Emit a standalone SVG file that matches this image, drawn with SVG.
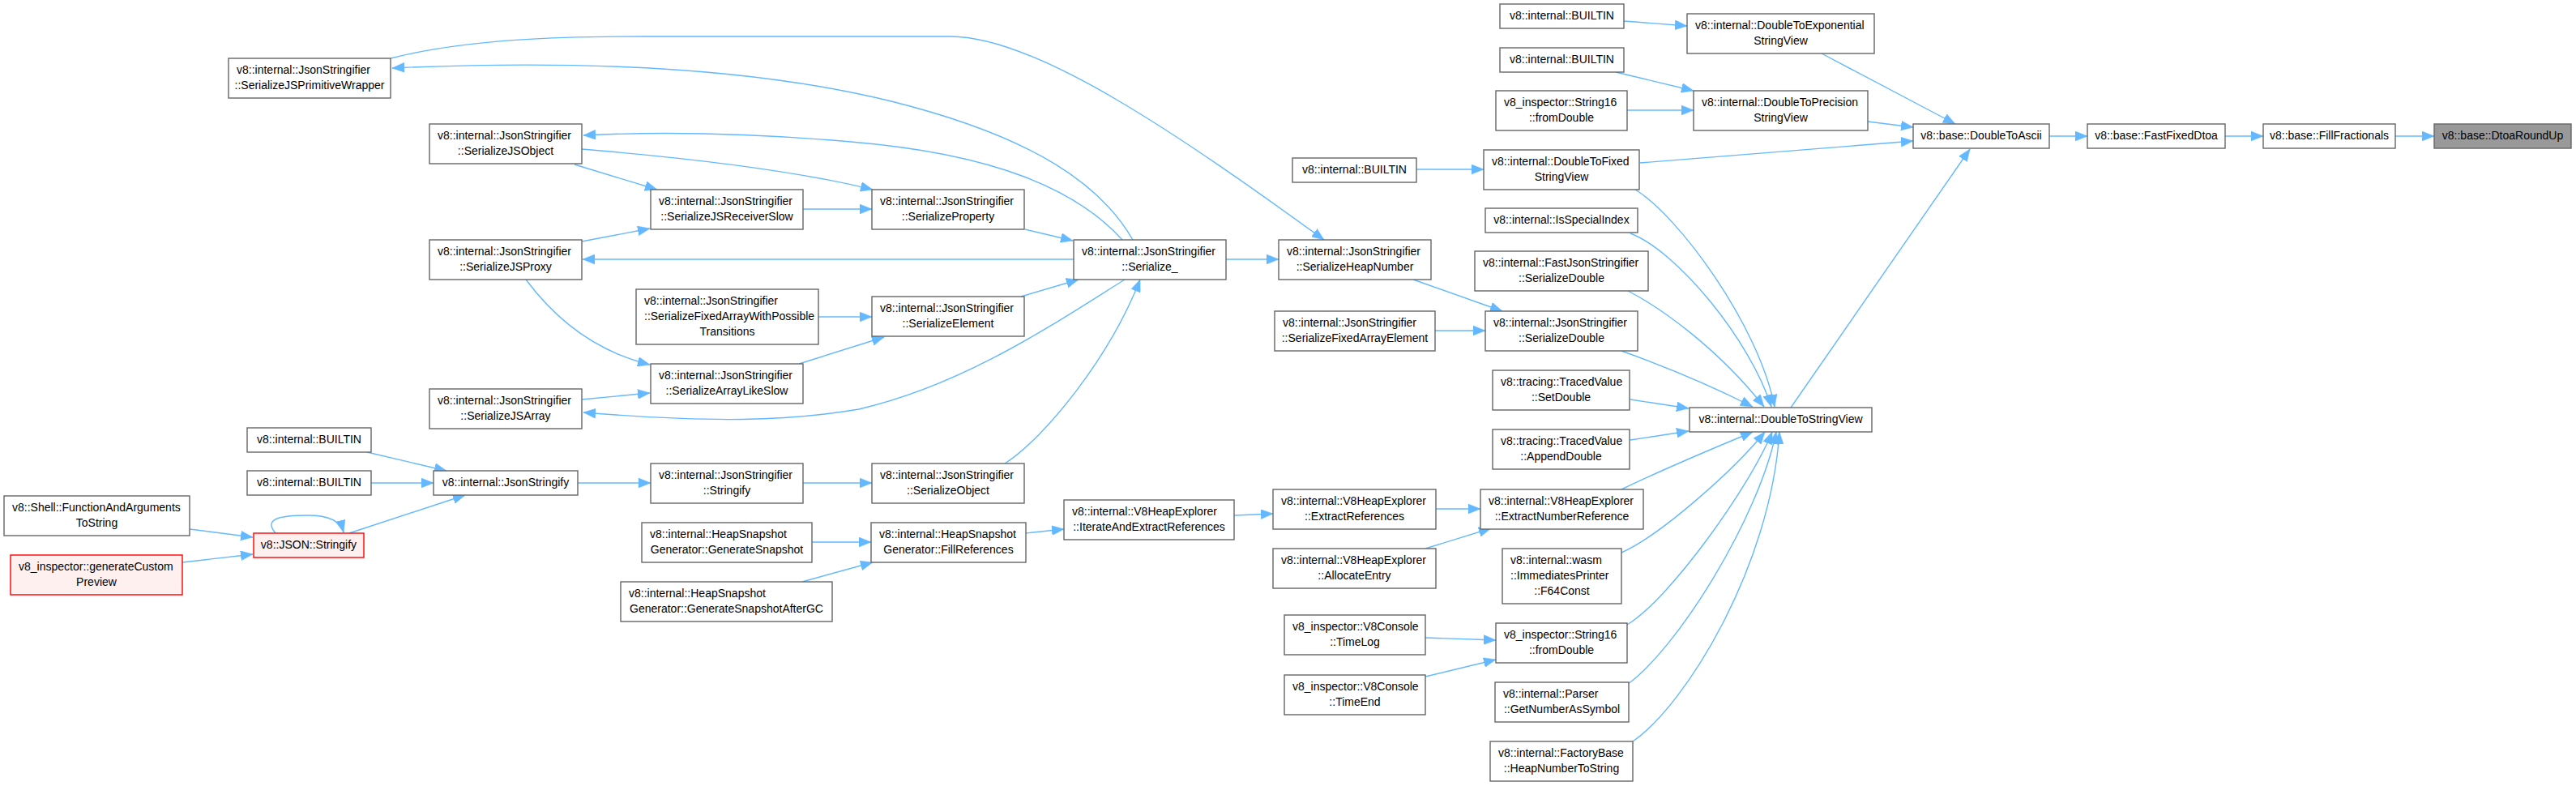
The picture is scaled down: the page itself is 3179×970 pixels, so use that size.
<svg xmlns="http://www.w3.org/2000/svg" width="3179" height="970" viewBox="0 0 3179 970">
<style>
.node rect{fill:#ffffff;stroke:#666666;stroke-width:1.4}
.node.red rect{fill:#fff0f0;stroke:#ff0000}
.node.cur rect{fill:#999999;stroke:#666666}
.node text{font-family:"Liberation Sans",Arial,sans-serif;font-size:14px;fill:#000000}
.c{text-anchor:middle}
.l{text-anchor:start}
.edges path{fill:none;stroke:#63b8ff;stroke-width:1.4;marker-end:url(#arr)}
</style>
<defs>
<marker id="arr" markerUnits="userSpaceOnUse" markerWidth="16" markerHeight="12" refX="15" refY="6" orient="auto">
<path d="M0,0 L15,6 L0,12 Z" fill="#63b8ff" stroke="#63b8ff" stroke-width="0.5"/>
</marker>
</defs>
<rect x="0" y="0" width="3179" height="970" fill="#ffffff"/>
<g class="edges">
<path d="M2529,168 L2576,168"/>
<path d="M2746,168 L2793,168"/>
<path d="M2956,168 L3004,168"/>
<path d="M2248,66 L2413,153"/>
<path d="M2305,150 L2361,157"/>
<path d="M2024,201 L2361,174"/>
<path d="M2210,503 L2431,184"/>
<path d="M2004,26 L2082,32"/>
<path d="M1994,89 L2090,112"/>
<path d="M2008,136 L2090,136"/>
<path d="M1748,209 L1831,209"/>
<path d="M2018,234 C2070,265 2170,400 2190,502"/>
<path d="M2012,288 C2070,310 2160,420 2186,502"/>
<path d="M2009,359 C2050,380 2120,430 2177,502"/>
<path d="M2001,433 Q2090,465 2163,502"/>
<path d="M2012,493 L2084,504"/>
<path d="M2012,543 L2084,532"/>
<path d="M2001,604 C2040,585 2110,555 2163,533"/>
<path d="M2001,682 C2050,660 2140,580 2178,533"/>
<path d="M2008,771 C2060,740 2160,600 2187,533"/>
<path d="M2009,844 C2070,800 2170,640 2192,533"/>
<path d="M2015,915 C2080,870 2185,700 2196,533"/>
<path d="M1744,345 L1854,384"/>
<path d="M1771,408 L1833,408"/>
<path d="M1513,320 L1578,320"/>
<path d="M482,72 C580,47 700,45 800,45 L1173,45 C1280,45 1460,170 1634,296"/>
<path d="M1398,296 C1360,230 1280,170 1100,125 C950,88 750,72 484,84"/>
<path d="M1385,296 C1330,235 1230,190 1050,175 C900,162 800,163 720,167"/>
<path d="M718,184 C850,195 980,210 1077,234"/>
<path d="M709,203 L811,234"/>
<path d="M718,298 L802,282"/>
<path d="M991,258 L1076,258"/>
<path d="M1265,283 L1324,297"/>
<path d="M1325,320 L719,320"/>
<path d="M649,345 C690,400 740,435 802,450"/>
<path d="M718,493 L802,485"/>
<path d="M1388,345 C1300,400 1190,475 1060,505 C970,520 880,522 720,509"/>
<path d="M1010,391 L1076,391"/>
<path d="M986,449 L1091,416"/>
<path d="M1260,366 L1331,345"/>
<path d="M1240,572 C1290,540 1370,440 1407,345"/>
<path d="M991,596 L1076,596"/>
<path d="M713,596 L803,596"/>
<path d="M453,558 L551,581"/>
<path d="M458,596 L535,596"/>
<path d="M431,658 L574,611"/>
<path d="M340,658 C325,640 345,636 380,636 C405,636 420,642 424,657"/>
<path d="M234,653 L312,663"/>
<path d="M225,694 L312,684"/>
<path d="M1002,669 L1075,669"/>
<path d="M990,718 L1077,694"/>
<path d="M1266,658 L1313,653"/>
<path d="M1523,636 L1571,634"/>
<path d="M1772,628 L1827,628"/>
<path d="M1759,677 L1840,652"/>
<path d="M1759,787 L1846,790"/>
<path d="M1759,835 L1846,814"/>
</g>
<g id="n1" class="node cur"><rect x="3004" y="153" width="169" height="30"/><text class="c" x="3088.5" y="172">v8::base::DtoaRoundUp</text></g>
<g id="n2" class="node"><rect x="2793" y="153" width="163" height="30"/><text class="c" x="2874.5" y="172">v8::base::FillFractionals</text></g>
<g id="n3" class="node"><rect x="2576" y="153" width="170" height="30"/><text class="c" x="2661" y="172">v8::base::FastFixedDtoa</text></g>
<g id="n4" class="node"><rect x="2361" y="153" width="168" height="30"/><text class="c" x="2445" y="172">v8::base::DoubleToAscii</text></g>
<g id="n5" class="node"><rect x="2082" y="17" width="231" height="49"/><text class="l" x="2092" y="36">v8::internal::DoubleToExponential</text><text class="c" x="2197.5" y="55">StringView</text></g>
<g id="n6" class="node"><rect x="2090" y="112" width="215" height="49"/><text class="l" x="2100" y="131">v8::internal::DoubleToPrecision</text><text class="c" x="2197.5" y="150">StringView</text></g>
<g id="n7" class="node"><rect x="1831" y="185" width="192" height="49"/><text class="l" x="1841" y="204">v8::internal::DoubleToFixed</text><text class="c" x="1927" y="223">StringView</text></g>
<g id="n8" class="node"><rect x="2085" y="503" width="225" height="30"/><text class="c" x="2197.5" y="522">v8::internal::DoubleToStringView</text></g>
<g id="n9" class="node"><rect x="1851" y="5" width="153" height="30"/><text class="c" x="1927.5" y="24">v8::internal::BUILTIN</text></g>
<g id="n10" class="node"><rect x="1851" y="59" width="153" height="30"/><text class="c" x="1927.5" y="78">v8::internal::BUILTIN</text></g>
<g id="n11" class="node"><rect x="1846" y="112" width="162" height="49"/><text class="l" x="1856" y="131">v8_inspector::String16</text><text class="c" x="1927" y="150">::fromDouble</text></g>
<g id="n12" class="node"><rect x="1595" y="195" width="153" height="30"/><text class="c" x="1671.5" y="214">v8::internal::BUILTIN</text></g>
<g id="n13" class="node"><rect x="1833" y="257" width="188" height="30"/><text class="c" x="1927" y="276">v8::internal::IsSpecialIndex</text></g>
<g id="n14" class="node"><rect x="1820" y="310" width="214" height="49"/><text class="l" x="1830" y="329">v8::internal::FastJsonStringifier</text><text class="c" x="1927" y="348">::SerializeDouble</text></g>
<g id="n15" class="node"><rect x="1833" y="384" width="188" height="49"/><text class="l" x="1843" y="403">v8::internal::JsonStringifier</text><text class="c" x="1927" y="422">::SerializeDouble</text></g>
<g id="n16" class="node"><rect x="1842" y="457" width="169" height="49"/><text class="l" x="1852" y="476">v8::tracing::TracedValue</text><text class="c" x="1926.5" y="495">::SetDouble</text></g>
<g id="n17" class="node"><rect x="1842" y="530" width="169" height="49"/><text class="l" x="1852" y="549">v8::tracing::TracedValue</text><text class="c" x="1926.5" y="568">::AppendDouble</text></g>
<g id="n18" class="node"><rect x="1827" y="604" width="201" height="49"/><text class="l" x="1837" y="623">v8::internal::V8HeapExplorer</text><text class="c" x="1927.5" y="642">::ExtractNumberReference</text></g>
<g id="n19" class="node"><rect x="1854" y="677" width="147" height="68"/><text class="l" x="1864" y="696">v8::internal::wasm</text><text class="l" x="1864" y="715">::ImmediatesPrinter</text><text class="c" x="1927.5" y="734">::F64Const</text></g>
<g id="n20" class="node"><rect x="1846" y="769" width="162" height="49"/><text class="l" x="1856" y="788">v8_inspector::String16</text><text class="c" x="1927" y="807">::fromDouble</text></g>
<g id="n21" class="node"><rect x="1845" y="842" width="165" height="49"/><text class="l" x="1855" y="861">v8::internal::Parser</text><text class="c" x="1927.5" y="880">::GetNumberAsSymbol</text></g>
<g id="n22" class="node"><rect x="1839" y="915" width="176" height="49"/><text class="l" x="1849" y="934">v8::internal::FactoryBase</text><text class="c" x="1927" y="953">::HeapNumberToString</text></g>
<g id="n23" class="node"><rect x="1578" y="296" width="188" height="49"/><text class="l" x="1588" y="315">v8::internal::JsonStringifier</text><text class="c" x="1672" y="334">::SerializeHeapNumber</text></g>
<g id="n24" class="node"><rect x="1573" y="384" width="198" height="49"/><text class="l" x="1583" y="403">v8::internal::JsonStringifier</text><text class="c" x="1672" y="422">::SerializeFixedArrayElement</text></g>
<g id="n25" class="node"><rect x="1571" y="604" width="201" height="49"/><text class="l" x="1581" y="623">v8::internal::V8HeapExplorer</text><text class="c" x="1671.5" y="642">::ExtractReferences</text></g>
<g id="n26" class="node"><rect x="1571" y="677" width="201" height="49"/><text class="l" x="1581" y="696">v8::internal::V8HeapExplorer</text><text class="c" x="1671.5" y="715">::AllocateEntry</text></g>
<g id="n27" class="node"><rect x="1585" y="759" width="174" height="49"/><text class="l" x="1595" y="778">v8_inspector::V8Console</text><text class="c" x="1672" y="797">::TimeLog</text></g>
<g id="n28" class="node"><rect x="1585" y="833" width="174" height="49"/><text class="l" x="1595" y="852">v8_inspector::V8Console</text><text class="c" x="1672" y="871">::TimeEnd</text></g>
<g id="n29" class="node"><rect x="1325" y="296" width="188" height="49"/><text class="l" x="1335" y="315">v8::internal::JsonStringifier</text><text class="c" x="1419" y="334">::Serialize_</text></g>
<g id="n30" class="node"><rect x="1313" y="617" width="210" height="49"/><text class="l" x="1323" y="636">v8::internal::V8HeapExplorer</text><text class="c" x="1418" y="655">::IterateAndExtractReferences</text></g>
<g id="n31" class="node"><rect x="803" y="234" width="188" height="49"/><text class="l" x="813" y="253">v8::internal::JsonStringifier</text><text class="c" x="897" y="272">::SerializeJSReceiverSlow</text></g>
<g id="n32" class="node"><rect x="1076" y="234" width="188" height="49"/><text class="l" x="1086" y="253">v8::internal::JsonStringifier</text><text class="c" x="1170" y="272">::SerializeProperty</text></g>
<g id="n33" class="node"><rect x="785" y="357" width="225" height="68"/><text class="l" x="795" y="376">v8::internal::JsonStringifier</text><text class="l" x="795" y="395">::SerializeFixedArrayWithPossible</text><text class="c" x="897.5" y="414">Transitions</text></g>
<g id="n34" class="node"><rect x="1076" y="366" width="188" height="49"/><text class="l" x="1086" y="385">v8::internal::JsonStringifier</text><text class="c" x="1170" y="404">::SerializeElement</text></g>
<g id="n35" class="node"><rect x="803" y="449" width="188" height="49"/><text class="l" x="813" y="468">v8::internal::JsonStringifier</text><text class="c" x="897" y="487">::SerializeArrayLikeSlow</text></g>
<g id="n36" class="node"><rect x="803" y="572" width="188" height="49"/><text class="l" x="813" y="591">v8::internal::JsonStringifier</text><text class="c" x="897" y="610">::Stringify</text></g>
<g id="n37" class="node"><rect x="1076" y="572" width="188" height="49"/><text class="l" x="1086" y="591">v8::internal::JsonStringifier</text><text class="c" x="1170" y="610">::SerializeObject</text></g>
<g id="n38" class="node"><rect x="792" y="645" width="210" height="49"/><text class="l" x="802" y="664">v8::internal::HeapSnapshot</text><text class="c" x="897" y="683">Generator::GenerateSnapshot</text></g>
<g id="n39" class="node"><rect x="1075" y="645" width="191" height="49"/><text class="l" x="1085" y="664">v8::internal::HeapSnapshot</text><text class="c" x="1170.5" y="683">Generator::FillReferences</text></g>
<g id="n40" class="node"><rect x="766" y="718" width="261" height="49"/><text class="l" x="776" y="737">v8::internal::HeapSnapshot</text><text class="c" x="896.5" y="756">Generator::GenerateSnapshotAfterGC</text></g>
<g id="n41" class="node"><rect x="282" y="72" width="200" height="49"/><text class="l" x="292" y="91">v8::internal::JsonStringifier</text><text class="c" x="382" y="110">::SerializeJSPrimitiveWrapper</text></g>
<g id="n42" class="node"><rect x="530" y="153" width="188" height="49"/><text class="l" x="540" y="172">v8::internal::JsonStringifier</text><text class="c" x="624" y="191">::SerializeJSObject</text></g>
<g id="n43" class="node"><rect x="530" y="296" width="188" height="49"/><text class="l" x="540" y="315">v8::internal::JsonStringifier</text><text class="c" x="624" y="334">::SerializeJSProxy</text></g>
<g id="n44" class="node"><rect x="530" y="480" width="188" height="49"/><text class="l" x="540" y="499">v8::internal::JsonStringifier</text><text class="c" x="624" y="518">::SerializeJSArray</text></g>
<g id="n45" class="node"><rect x="305" y="528" width="153" height="30"/><text class="c" x="381.5" y="547">v8::internal::BUILTIN</text></g>
<g id="n46" class="node"><rect x="305" y="581" width="153" height="30"/><text class="c" x="381.5" y="600">v8::internal::BUILTIN</text></g>
<g id="n47" class="node"><rect x="535" y="581" width="178" height="30"/><text class="c" x="624" y="600">v8::internal::JsonStringify</text></g>
<g id="n48" class="node"><rect x="5" y="612" width="229" height="49"/><text class="l" x="15" y="631">v8::Shell::FunctionAndArguments</text><text class="c" x="119.5" y="650">ToString</text></g>
<g id="n49" class="node red"><rect x="13" y="685" width="212" height="49"/><text class="l" x="23" y="704">v8_inspector::generateCustom</text><text class="c" x="119" y="723">Preview</text></g>
<g id="n50" class="node red"><rect x="313" y="658" width="136" height="30"/><text class="c" x="381" y="677">v8::JSON::Stringify</text></g>
</svg>
